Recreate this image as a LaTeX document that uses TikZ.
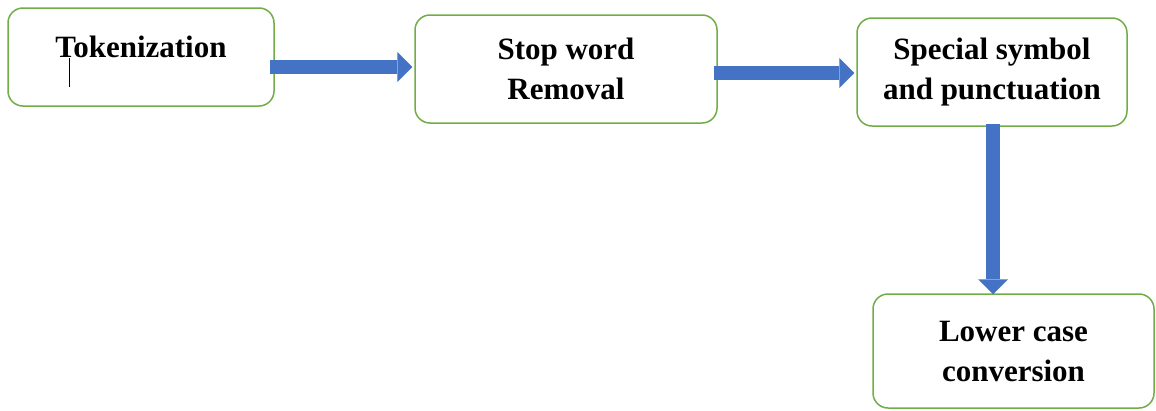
\documentclass[tikz,border=0pt]{standalone}
\usepackage{fontspec}
\setmainfont{Liberation Serif}
\usetikzlibrary{arrows.meta,calc}
\definecolor{boxgreen}{HTML}{70AD47}
\definecolor{flowblue}{HTML}{4472C4}
\begin{document}
\begin{tikzpicture}[x=1pt,y=-1pt,
  stage/.style={draw=boxgreen, line width=1.5pt, rounded corners=15pt,
    align=center, inner sep=0pt,
    font=\fontsize{31}{40}\selectfont\bfseries},
  flow/.style={draw=flowblue, line width=14pt,
    -{Triangle[width=30pt,length=15pt,line width=0pt]}}
]
\useasboundingbox (0,0) rectangle (1156,410);

% processing stages
\node[stage, minimum width=266pt, minimum height=98pt,
      text height=20pt, text depth=20pt] (tok) at (141,57) {Tokenization};
\node[stage, minimum width=302pt, minimum height=108pt] (stop) at (566,69) {Stop word\\Removal};
\node[stage, minimum width=270pt, minimum height=108pt] (spec) at (992,72) {Special symbol\\and punctuation};
\node[stage, minimum width=281pt, minimum height=114pt] (lower) at (1013.5,351) {Lower case\\conversion};

% text cursor inside the first box
\draw[line width=1pt] (69,58) -- (69,87);

% flow between stages
\draw[flow] ($(tok.east)+(-5,10)$) -- ($(stop.west)+(-2,-2)$);
\draw[flow] ($(stop.east)+(-4,4)$) -- ($(spec.west)+(-2,1)$);
\draw[flow] ($(spec.south)+(1,-3)$) -- ($(lower.north)+(-20.5,1)$);
\end{tikzpicture}
\end{document}
